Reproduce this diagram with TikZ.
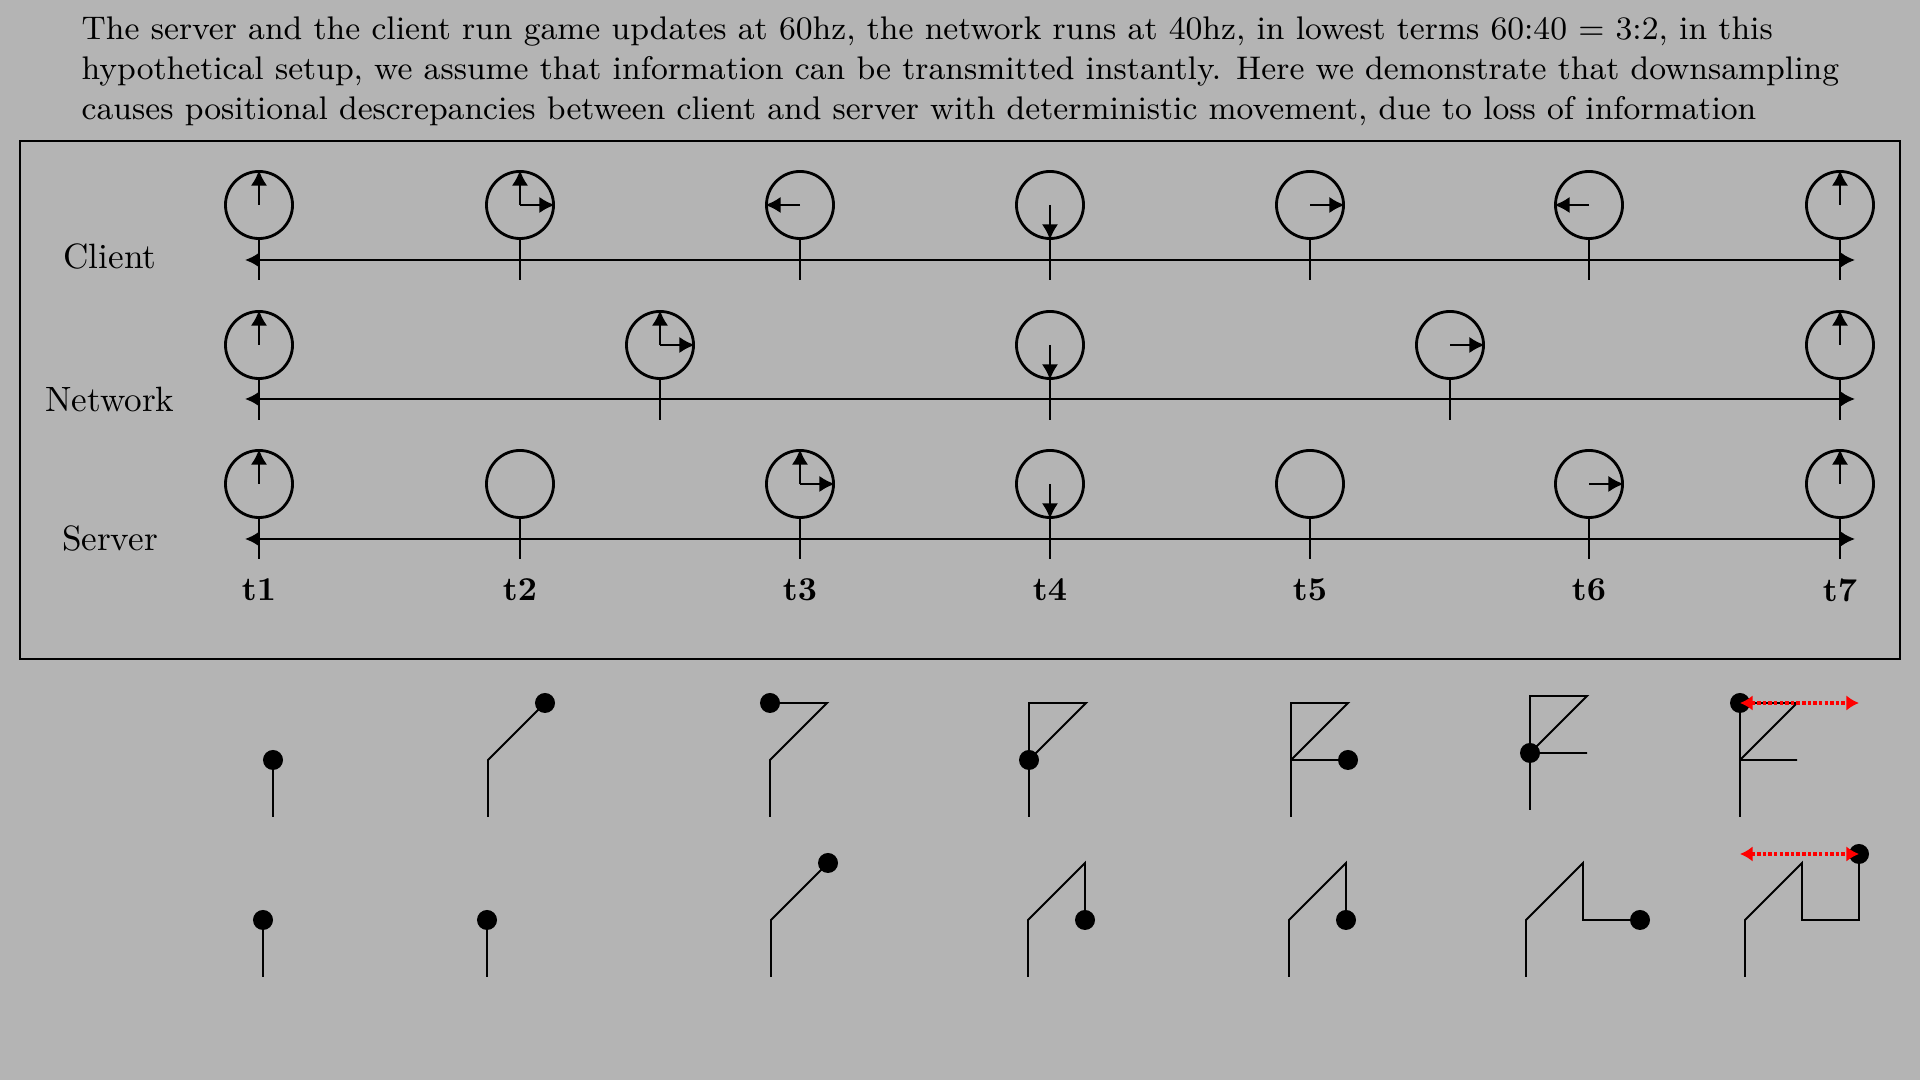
\documentclass[tikz,border=0pt]{standalone}
\usetikzlibrary{arrows.meta}
\definecolor{bggray}{RGB}{180,180,180}
\tikzset{
    body/.style = {anchor = base west, inner sep = 0pt, font = \fontsize{9.3pt}{11pt}\selectfont},
    rowname/.style = {font = \fontsize{10pt}{12pt}\selectfont},
    tname/.style = {font = \fontsize{9.5pt}{11pt}\selectfont\bfseries},
    clock/.style = {draw, circle, line width = 0.8pt, minimum size = 0.67cm, inner sep = 0pt},
    move/.style = {-{Latex[length = 4.4pt, width = 4.6pt]}, line width = 0.7pt},
    timeline/.style = {{Latex[length = 4.2pt, width = 4.6pt]}-{Latex[length = 4.2pt, width = 4.6pt]}, line width = 0.8pt},
    tickline/.style = {line width = 0.7pt},
    trail/.style = {line width = 0.55pt},
    blob/.style = {fill, circle, minimum size = 0.2cm, inner sep = 0pt},
    offset/.style = {red, line width = 1pt, dash pattern = on 1pt off 0.6pt, {Latex[length = 3.6pt, width = 4.4pt]}-{Latex[length = 3.6pt, width = 4.4pt]}}
}
\begin{document}
\begin{tikzpicture}[x = 0.01cm, y = -0.01cm]
    \fill [bggray] (0, 0) rectangle (1920, 1080);
    \node [body] (line1) at (81, 40) {The server and the client run game updates at 60hz, the network runs at 40hz, in lowest terms 60:40 = 3:2, in this};
    \node [body] (line2) at (81, 80) {hypothetical setup, we assume that information can be transmitted instantly. Here we demonstrate that downsampling};
    \node [body] (line3) at (81, 120) {causes positional descrepancies between client and server with deterministic movement, due to loss of information};
    \draw [line width = 0.8pt] (20, 141) rectangle (1900, 659);

    \node [rowname] (client) at (110, 257) {Client};
    \node [rowname] (network) at (110, 400) {Network};
    \node [rowname] (server) at (110, 539) {Server};

    \coordinate (cl) at (245, 260);
    \coordinate (cr) at (1855, 260);
    \coordinate (nl) at (245, 399);
    \coordinate (nr) at (1855, 399);
    \coordinate (sl) at (245, 539);
    \coordinate (sr) at (1855, 539);
    \draw [timeline] (cl) -- (cr);
    \draw [timeline] (nl) -- (nr);
    \draw [timeline] (sl) -- (sr);

    \node [clock] (c1) at (259, 205) {};
    \node [clock] (c2) at (520, 205) {};
    \node [clock] (c3) at (800, 205) {};
    \node [clock] (c4) at (1050, 205) {};
    \node [clock] (c5) at (1310, 205) {};
    \node [clock] (c6) at (1589, 205) {};
    \node [clock] (c7) at (1840, 205) {};
    \node [clock] (n1) at (259, 345) {};
    \node [clock] (n2) at (660, 345) {};
    \node [clock] (n3) at (1050, 345) {};
    \node [clock] (n4) at (1450, 345) {};
    \node [clock] (n5) at (1840, 345) {};
    \node [clock] (s1) at (259, 484) {};
    \node [clock] (s2) at (520, 484) {};
    \node [clock] (s3) at (800, 484) {};
    \node [clock] (s4) at (1050, 484) {};
    \node [clock] (s5) at (1310, 484) {};
    \node [clock] (s6) at (1589, 484) {};
    \node [clock] (s7) at (1840, 484) {};
    \foreach \c in {c1, c2, c3, c4, c5, c6, c7, n1, n2, n3, n4, n5, s1, s2, s3, s4, s5, s6, s7}
        \draw [tickline] (\c.south) -- ++(0, 40);

    \draw [move] (c1.center) -- (c1.north);
    \draw [move] (c2.center) -- (c2.north);
    \draw [move] (c2.center) -- (c2.east);
    \draw [move] (c3.center) -- (c3.west);
    \draw [move] (c4.center) -- (c4.south);
    \draw [move] (c5.center) -- (c5.east);
    \draw [move] (c6.center) -- (c6.west);
    \draw [move] (c7.center) -- (c7.north);
    \draw [move] (n1.center) -- (n1.north);
    \draw [move] (n2.center) -- (n2.north);
    \draw [move] (n2.center) -- (n2.east);
    \draw [move] (n3.center) -- (n3.south);
    \draw [move] (n4.center) -- (n4.east);
    \draw [move] (n5.center) -- (n5.north);
    \draw [move] (s1.center) -- (s1.north);
    \draw [move] (s3.center) -- (s3.north);
    \draw [move] (s3.center) -- (s3.east);
    \draw [move] (s4.center) -- (s4.south);
    \draw [move] (s6.center) -- (s6.east);
    \draw [move] (s7.center) -- (s7.north);

    \node [tname] (t1) at (259, 590) {t1};
    \node [tname] (t2) at (520, 590) {t2};
    \node [tname] (t3) at (800, 590) {t3};
    \node [tname] (t4) at (1050, 590) {t4};
    \node [tname] (t5) at (1310, 590) {t5};
    \node [tname] (t6) at (1589, 590) {t6};
    \node [tname] (t7) at (1840, 590) {t7};

    % client paths
    \draw [trail] (273, 817) -- ++(0, -57);
    \draw [trail] (488, 817) -- ++(0, -57) -- ++(57, -57);
    \draw [trail] (770, 817) -- ++(0, -57) -- ++(57, -57) -- ++(-57, 0);
    \draw [trail] (1029, 817) -- ++(0, -57) -- ++(57, -57) -- ++(-57, 0) -- ++(0, 57);
    \draw [trail] (1291, 817) -- ++(0, -57) -- ++(57, -57) -- ++(-57, 0) -- ++(0, 57) -- ++(57, 0);
    \draw [trail] (1530, 810) -- ++(0, -57) -- ++(57, -57) -- ++(-57, 0) -- ++(0, 57) -- ++(57, 0) -- ++(-57, 0);
    \draw [trail] (1740, 817) -- ++(0, -57) -- ++(57, -57) -- ++(-57, 0) -- ++(0, 57) -- ++(57, 0) -- ++(-57, 0) -- ++(0, -57);
    \node [blob] (p1) at (273, 760) {};
    \node [blob] (p2) at (545, 703) {};
    \node [blob] (p3) at (770, 703) {};
    \node [blob] (p4) at (1029, 760) {};
    \node [blob] (p5) at (1348, 760) {};
    \node [blob] (p6) at (1530, 753) {};
    \node [blob] (p7) at (1740, 703) {};

    % server paths
    \draw [trail] (263, 977) -- ++(0, -57);
    \draw [trail] (487, 977) -- ++(0, -57);
    \draw [trail] (771, 977) -- ++(0, -57) -- ++(57, -57);
    \draw [trail] (1028, 977) -- ++(0, -57) -- ++(57, -57) -- ++(0, 57);
    \draw [trail] (1289, 977) -- ++(0, -57) -- ++(57, -57) -- ++(0, 57);
    \draw [trail] (1526, 977) -- ++(0, -57) -- ++(57, -57) -- ++(0, 57) -- ++(57, 0);
    \draw [trail] (1745, 977) -- ++(0, -57) -- ++(57, -57) -- ++(0, 57) -- ++(57, 0) -- ++(0, -66);
    \node [blob] (q1) at (263, 920) {};
    \node [blob] (q2) at (487, 920) {};
    \node [blob] (q3) at (828, 863) {};
    \node [blob] (q4) at (1085, 920) {};
    \node [blob] (q5) at (1346, 920) {};
    \node [blob] (q6) at (1640, 920) {};
    \node [blob] (q7) at (1859, 854) {};

    \coordinate (pe) at (1859, 703);
    \coordinate (qe) at (1740, 854);
    \draw [offset] (p7.center) -- (pe);
    \draw [offset] (qe) -- (q7.center);
\end{tikzpicture}
\end{document}
